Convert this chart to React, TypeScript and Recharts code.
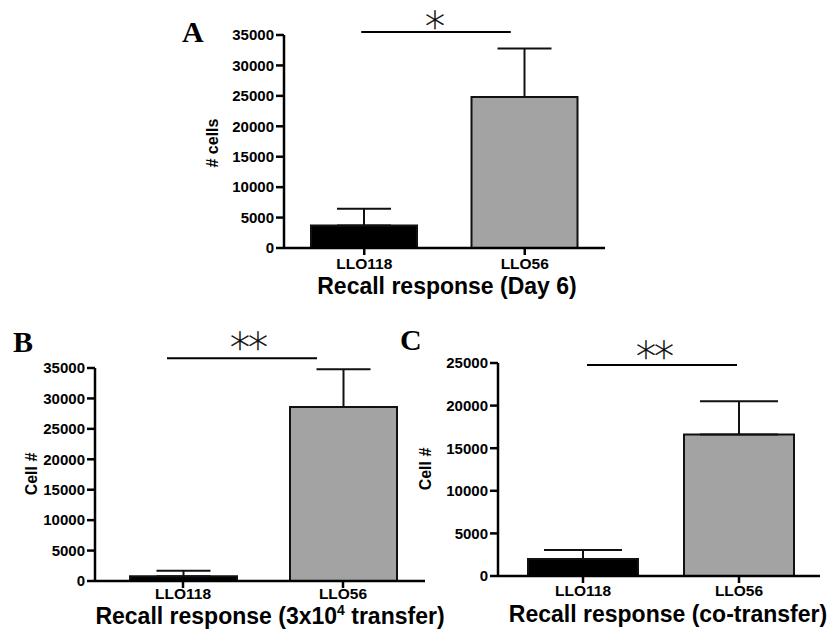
import React from 'react';
import { BarChart, Bar, XAxis, YAxis, ErrorBar, Cell, ReferenceLine } from 'recharts';

const groups = ['LLO118', 'LLO56'];
const barColors = ['#000000', '#a3a3a3'];

// A: recall response, day 6
const dayMeans = [3700, 24800];
const daySem = [2750, 8000];
const dayTicks = [0, 5000, 10000, 15000, 20000, 25000, 30000, 35000];
const daySig = 35500;

// B: recall response after 3x10^4 transfer
const transferMeans = [800, 28600];
const transferSem = [900, 6200];
const transferTicks = [0, 5000, 10000, 15000, 20000, 25000, 30000, 35000];
const transferSig = 36600;

// C: recall response, co-transfer
const coMeans = [2000, 16600];
const coSem = [1050, 3900];
const coTicks = [0, 5000, 10000, 15000, 20000, 25000];
const coSig = 24770;

const sans = '"Liberation Sans", Arial, sans-serif';
const serif = '"Liberation Serif", "Times New Roman", serif';

const build = (means: number[], sem: number[]) =>
  groups.map((name, i) => ({ name, mean: means[i], err: [0, sem[i]] }));

const axisStroke = { stroke: '#000', strokeWidth: 2.5 };

function Panel(props: any) {
  const { data, ticks, sig, stars, left, top, width, height, margin, pad, xHeight, xMargin, barSize, cap, trim, starDx, starLift } = props;
  const sigShape = (p: any) => {
    const x1 = p.x1 + trim[0];
    const x2 = p.x2 + trim[1];
    return (
      <g>
        <line x1={x1} x2={x2} y1={p.y1} y2={p.y2} stroke="#000" strokeWidth={2} />
        <text x={(x1 + x2) / 2 + starDx} y={p.y1 - starLift + 23} textAnchor="middle" opacity={0.99}
          stroke="#000" strokeWidth={0.4}
          style={{ fontFamily: '"DejaVu Sans", sans-serif', fontWeight: 200, fontSize: 40, fill: '#000', letterSpacing: -2 }}>
          {stars}
        </text>
      </g>
    );
  };
  return (
    <div style={{ position: 'absolute', left, top }}>
      <BarChart width={width} height={height} data={data} margin={margin}>
        <XAxis dataKey="name" interval={0} padding={pad} height={xHeight}
          axisLine={axisStroke} tickLine={axisStroke} tickSize={7} tickMargin={xMargin}
          tick={{ fill: '#000', fontFamily: sans, fontWeight: 700, fontSize: 15.5 }} />
        <YAxis domain={[0, ticks[ticks.length - 1]]} ticks={ticks} interval={0} width={70}
          axisLine={axisStroke} tickLine={axisStroke} tickSize={8} tickMargin={2}
          tick={{ fill: '#000', fontFamily: sans, fontWeight: 700, fontSize: 15 }} />
        <Bar dataKey="mean" barSize={barSize} stroke="#111" strokeWidth={2} isAnimationActive={false}>
          {data.map((d: any, i: number) => <Cell key={d.name} fill={barColors[i]} />)}
          <ErrorBar dataKey="err" direction="y" width={cap} stroke="#111" strokeWidth={2} isAnimationActive={false} />
        </Bar>
        <ReferenceLine ifOverflow="visible" shape={sigShape}
          segment={[{ x: groups[0], y: sig }, { x: groups[1], y: sig }]} />
      </BarChart>
    </div>
  );
}

const titleStyle: React.CSSProperties = { fontFamily: sans, fontWeight: 700, fontSize: 23, fill: '#000' };
const yTitleStyle: React.CSSProperties = { fontFamily: sans, fontWeight: 700, fontSize: 16, fill: '#000' };
const letterStyle: React.CSSProperties = { fontFamily: serif, fontWeight: 700, fontSize: 30, fill: '#000' };

export default function App() {
  return (
    <div style={{ position: 'absolute', left: 0, top: 0, width: 838, height: 631, background: '#fff' }}>
      <Panel data={build(dayMeans, daySem)} ticks={dayTicks} sig={daySig} stars="*"
        left={200} top={0} width={420} height={310}
        margin={{ top: 35, right: 15, bottom: 4, left: 14 }} xHeight={58} xMargin={3}
        pad={{ left: 0, right: 0 }} barSize={106} cap={27} trim={[-3, -14]} starDx={-2} starLift={14} />
      <Panel data={build(transferMeans, transferSem)} ticks={transferTicks} sig={transferSig} stars="**"
        left={0} top={320} width={440} height={311}
        margin={{ top: 48, right: 15, bottom: 4, left: 25 }} xHeight={46} xMargin={0}
        pad={{ left: 8, right: 2 }} barSize={107} cap={27} trim={[-16, -26]} starDx={6} starLift={19} />
      <Panel data={build(coMeans, coSem)} ticks={coTicks} sig={coSig} stars="**"
        left={420} top={320} width={418} height={311}
        margin={{ top: 43, right: 18, bottom: 4, left: 8 }} xHeight={51} xMargin={2}
        pad={{ left: 7, right: 3 }} barSize={110} cap={39} trim={[4, -2]} starDx={-8} starLift={17} />
      <svg width={838} height={631} style={{ position: 'absolute', left: 0, top: 0, pointerEvents: 'none' }}>
        <text x={182} y={42} style={letterStyle}>A</text>
        <text x={13} y={352} style={letterStyle}>B</text>
        <text x={400} y={350} style={letterStyle}>C</text>
        <text x={447} y={294} textAnchor="middle" style={titleStyle}>Recall response (Day 6)</text>
        <text x={270} y={624} textAnchor="middle" style={titleStyle}>
          Recall response (3x10<tspan dy={-9} fontSize={14}>4</tspan><tspan dy={9}> transfer)</tspan>
        </text>
        <text x={668} y={622} textAnchor="middle" style={titleStyle}>Recall response (co-transfer)</text>
        <text transform="translate(212,143) rotate(-90)" textAnchor="middle" dominantBaseline="central" style={yTitleStyle}># cells</text>
        <text transform="translate(31,474) rotate(-90)" textAnchor="middle" dominantBaseline="central" style={yTitleStyle}>Cell #</text>
        <text transform="translate(425,469) rotate(-90)" textAnchor="middle" dominantBaseline="central" style={yTitleStyle}>Cell #</text>
      </svg>
    </div>
  );
}
